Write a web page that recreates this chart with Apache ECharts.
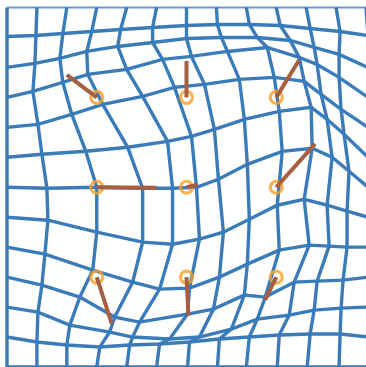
<!DOCTYPE html>
<html>
<head>
<meta charset="utf-8">
<script src="https://cdn.jsdelivr.net/npm/echarts@6/dist/echarts.min.js"></script>
<style>
  html, body { margin: 0; padding: 0; background: #ffffff; }
  #chart { width: 366px; height: 367px; }
</style>
</head>
<body>
<div id="chart"></div>
<script>
// Warped 12x12 lattice in field units (0..360, lattice step 30).
// latticeX[j][i], latticeY[j][i]: position of node (column i, row j) after warping.
const latticeX = [
  [0, 30, 60, 90, 120, 150, 180, 210, 240, 270, 300, 330, 360],
  [0, 29, 56, 85, 114, 146, 180, 211, 243, 274, 304, 334, 362],
  [0, 28, 53, 80, 111, 146, 180, 215, 251, 284, 308, 333, 362],
  [0, 26, 56, 81, 120, 156, 185, 221, 261, 293, 311, 333, 362],
  [0, 31, 65, 96, 136, 168, 198, 233, 268, 298, 315, 335, 362],
  [0, 35, 79, 121, 161, 185, 208, 238, 273, 305, 321, 338, 362],
  [0, 40, 90, 136, 166, 190, 212, 241, 276, 306, 326, 343, 362],
  [0, 41, 90, 136, 166, 193, 217, 243, 271, 298, 321, 341, 362],
  [0, 38, 86, 126, 153, 183, 213, 241, 273, 303, 323, 341, 362],
  [0, 35, 73, 108, 133, 181, 207, 238, 259, 288, 311, 337, 362],
  [0, 31, 63, 103, 126, 163, 193, 225, 251, 283, 308, 335, 362],
  [0, 30, 60, 93, 123, 153, 183, 213, 243, 273, 304, 334, 362],
  [0, 30, 60, 90, 120, 150, 181, 211, 240, 271, 301, 333, 362]
];
const latticeY = [
  [0, 0, 0, 0, 0, 0, 0, 0, 0, 0, 0, 0, 0],
  [29, 28, 26, 24, 22, 20, 18, 17, 17, 18, 21, 24, 28],
  [60, 56, 51, 44, 39, 35, 31, 30, 30, 33, 40, 47, 60],
  [90, 84, 75, 67, 62, 52, 49, 44, 40, 50, 57, 70, 90],
  [120, 117, 107, 97, 89, 80, 77, 72, 70, 74, 87, 102, 120],
  [150, 147, 144, 140, 134, 129, 122, 112, 104, 100, 112, 127, 150],
  [180, 181, 180, 181, 181, 180, 172, 157, 144, 141, 150, 164, 180],
  [210, 213, 225, 235, 237, 232, 225, 212, 198, 192, 198, 204, 210],
  [240, 247, 263, 275, 282, 281, 270, 257, 243, 238, 239, 240, 240],
  [270, 278, 290, 310, 315, 307, 302, 288, 290, 275, 274, 273, 270],
  [300, 305, 318, 325, 330, 332, 330, 322, 312, 308, 303, 301, 300],
  [330, 335, 338, 340, 338, 337, 335, 332, 330, 328, 327, 327, 330],
  [360, 360, 360, 360, 360, 360, 360, 360, 360, 360, 360, 360, 360]
];

// Control points (source positions) and where each one is pulled to.
const controlX = [90, 180, 270, 90, 180, 270, 90, 180, 270];
const controlY = [90, 90, 90, 180, 180, 180, 270, 270, 270];
const targetX  = [60, 180, 293, 150, 191, 309, 105, 182, 259];
const targetY  = [67.5, 53.5, 52.5, 180.5, 177.5, 136.5, 316.5, 308.5, 292.5];

const gridColor = '#3a7bb9';
const ringColor = '#f8a126';
const arrowColor = '#a65f40';

const series = [];
const lineStyle = { color: gridColor, width: 3.4, join: 'miter', cap: 'butt' };

// rows of the lattice
for (let j = 0; j < latticeX.length; j++) {
  series.push({
    type: 'line', silent: true, symbol: 'none', clip: false, animation: false,
    lineStyle: j === 0 ? Object.assign({}, lineStyle, { width: 1.8, opacity: 0.75 }) : lineStyle,
    data: latticeX[j].map((x, i) => [x, latticeY[j][i]])
  });
}
// columns of the lattice
for (let i = 0; i < latticeX[0].length; i++) {
  series.push({
    type: 'line', silent: true, symbol: 'none', clip: false, animation: false,
    lineStyle: lineStyle,
    data: latticeX.map((row, j) => [row[i], latticeY[j][i]])
  });
}
// control rings
series.push({
  type: 'scatter', silent: true, animation: false, symbol: 'circle', symbolSize: 12,
  itemStyle: { color: 'rgba(255,255,255,0)', borderColor: ringColor, borderWidth: 3.2 },
  data: controlX.map((x, k) => [x, controlY[k]]),
  z: 3
});
// displacement segments
for (let k = 0; k < controlX.length; k++) {
  series.push({
    type: 'line', silent: true, symbol: 'none', clip: false, animation: false,
    lineStyle: { color: arrowColor, width: 4, cap: 'butt' },
    data: [[controlX[k], controlY[k]], [targetX[k], targetY[k]]],
    z: 4
  });
}

const chart = echarts.init(document.getElementById('chart'), null, { renderer: 'canvas' });
chart.setOption({
  backgroundColor: '#ffffff',
  animation: false,
  grid: { left: 7, top: 7.5, width: 362, height: 361.5, containLabel: false },
  xAxis: { type: 'value', min: 0, max: 360, show: false },
  yAxis: { type: 'value', min: 0, max: 360, inverse: true, show: false },
  series: series
});
</script>
</body>
</html>
